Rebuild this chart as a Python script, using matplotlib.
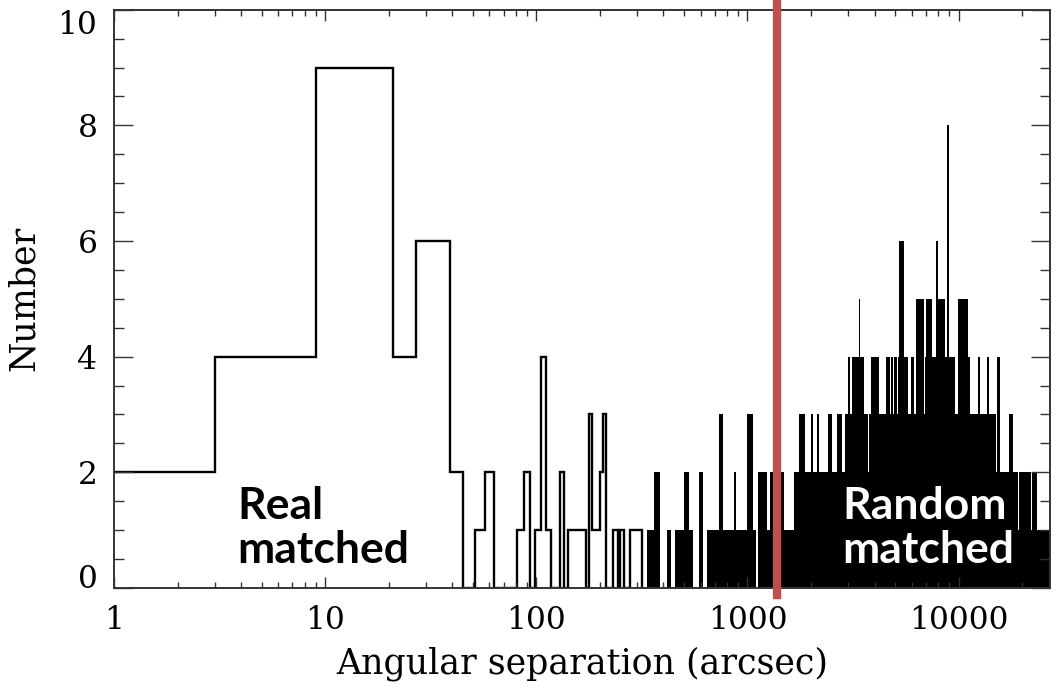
import numpy as np
import matplotlib
matplotlib.use('Agg')
import matplotlib.pyplot as plt
from matplotlib.ticker import FixedLocator, NullFormatter, LogLocator

# histogram of separations, 6 arcsec bins (centres are multiples of 6)
bin_width = 6
sparse_centers = [0, 6, 12, 18, 24, 30, 36, 42, 54, 60, 84, 90, 102, 108, 114, 132,
                  144, 150, 156, 162, 168, 180, 186, 192, 198, 204, 210, 234, 240,
                  252, 258, 282, 288, 294, 300, 306, 312]
sparse_counts = [2, 4, 9, 9, 4, 6, 6, 2, 1, 2, 1, 2, 1, 4, 1, 2,
                 1, 1, 1, 1, 1, 3, 1, 1, 1, 2, 3, 1, 1,
                 1, 1, 1, 1, 1, 1, 1, 1]

# beyond ~340" the bins are narrower than a pixel, so only the envelope is kept
dense_edges = [336, 359, 387, 414, 436, 456, 499, 527, 551, 592, 614, 644, 731, 763,
               862, 887, 1000, 1065, 1100, 1120, 1240, 1283, 1335, 1433, 1492, 1659,
               1751, 1878, 1994, 2052, 2124, 2183, 2405, 2520, 2650, 2796, 2913, 2987,
               3058, 3075, 3134, 3320, 3380, 3420, 3550, 3730, 3760, 3838, 4182, 4515,
               4720, 4760, 4900, 4960, 5110, 5165, 5200, 5540, 5770, 5960, 6170, 6280,
               6840, 6930, 7040, 7500, 7830, 7970, 8640, 8820, 8960, 9570, 9900, 11100,
               11270, 12320, 12630, 13620, 13970, 14970, 15280, 15760, 17380, 18150,
               19150, 19300, 22000, 22200, 23400, 27600]
dense_levels = [1, 2, 0, 1, 0, 1, 2, 1, 0, 2, 0, 1, 3, 1,
                2, 1, 3, 1, 0, 2, 1, 2, 1, 2, 1, 2,
                3, 2, 3, 2, 3, 2, 3, 2, 3, 2, 3, 4,
                2, 3, 4, 4, 5, 4, 3, 2, 3, 4, 3, 4,
                3, 4, 3, 4, 3, 4, 6, 4, 3, 4, 3, 5,
                3, 4, 5, 4, 6, 5, 4, 8, 4, 3, 5, 4,
                3, 4, 3, 4, 3, 2, 4, 2, 3, 2,
                1, 2, 1, 2, 1]

cut_sep = 1380  # red divider, arcsec

serif = 'DejaVu Serif'
fig = plt.figure(figsize=(10.56, 6.99), dpi=100)
ax = fig.add_axes([0.108, 0.159, 0.886, 0.827])

centers = np.array(sparse_centers, dtype=float)
lo = np.arange(0, centers.max() + bin_width, bin_width)
counts = np.zeros(len(lo))
counts[(centers / bin_width).astype(int)] = sparse_counts
edges = np.append(lo - bin_width / 2, lo[-1] + bin_width / 2)
edges[0] = 0.9

ax.stairs(counts, edges, color='black', lw=1.7)
ax.stairs(dense_levels, dense_edges, fill=True, color='black', lw=0)
ax.axvline(cut_sep, ymin=-0.012, ymax=1.015, color='#C0504D', lw=6, clip_on=False, zorder=5)

ax.set_xscale('log')
ax.set_xlim(1, 27000)
ax.set_ylim(0, 10)
ax.xaxis.set_major_locator(FixedLocator([1, 10, 100, 1000, 10000]))
ax.set_xticklabels(['1', '10', '100', '1000', '10000'])
ax.xaxis.set_minor_locator(LogLocator(base=10, subs=np.arange(2, 10)))
ax.xaxis.set_minor_formatter(NullFormatter())
ax.set_yticks([0, 2, 4, 6, 8, 10])
ax.set_yticks(np.arange(0, 10.01, 0.5), minor=True)

ax.tick_params(axis='both', which='both', direction='in', top=True, right=True,
               width=1, color='#333333')
ax.tick_params(axis='y', which='major', length=14, pad=12)
ax.tick_params(axis='y', which='minor', length=7)
ax.tick_params(axis='x', which='major', length=8, pad=12)
ax.tick_params(axis='x', which='minor', length=4)
for lab in ax.get_xticklabels() + ax.get_yticklabels():
    lab.set_fontfamily(serif)
    lab.set_fontsize(22.5)
# IDL pulls the end labels inside the frame
ylabs = ax.get_yticklabels()
ylabs[-1].set_verticalalignment('top')
ylabs[0].set_verticalalignment('baseline')
for s in ax.spines.values():
    s.set_linewidth(1.4)
    s.set_color('#333333')

ax.set_xlabel('Angular separation (arcsec)', fontfamily=serif, fontsize=25, labelpad=8)
ax.set_ylabel('Number', fontfamily=serif, fontsize=25, labelpad=12)

fig.text(0.225, 0.244, 'Real\nmatched', fontfamily='Lato', fontweight='bold',
         fontsize=32, color='black', ha='left', va='center', linespacing=1.12)
fig.text(0.798, 0.244, 'Random\nmatched', fontfamily='Lato', fontweight='bold',
         fontsize=32, color='white', ha='left', va='center', linespacing=1.12, zorder=10)

fig.savefig('out.png', dpi=100)
